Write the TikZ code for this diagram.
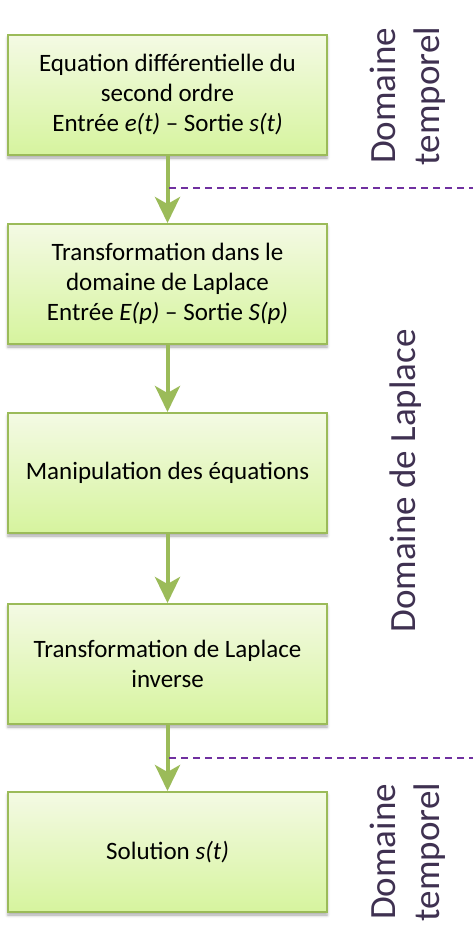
\documentclass[tikz,border=0pt]{standalone}
\usepackage{fontspec}
\setmainfont{Carlito}
\usetikzlibrary{arrows.meta,shadows.blur}
\definecolor{boxtop}{HTML}{F4FAE4}
\definecolor{boxbot}{HTML}{D6F49E}
\definecolor{boxline}{HTML}{9BBB59}
\definecolor{arrgreen}{HTML}{9BBB59}
\definecolor{dashpurple}{HTML}{7030A0}
\definecolor{labpurple}{HTML}{3F3151}
\tikzset{
  stepbox/.style={draw=boxline, line width=2pt, top color=boxtop, bottom color=boxbot,
    minimum width=319pt, minimum height=120pt, align=center, inner sep=0pt,
    font=\fontsize{25}{30}\selectfont,
    blur shadow={shadow xshift=0pt, shadow yshift=-3pt, shadow blur radius=3pt, shadow opacity=35}},
  flowarrow/.style={draw=arrgreen, line width=4pt, -{Stealth[length=26pt,width=25pt,inset=7pt]}},
  sep/.style={draw=dashpurple, line width=2.5pt, dash pattern=on 7pt off 5pt},
  domlabel/.style={rotate=90, align=center, text=labpurple, font=\fontsize{37}{44}\selectfont}
}
\begin{document}
\begin{tikzpicture}[x=1pt,y=-1pt]
\useasboundingbox (0,0) rectangle (473,947);
\node[stepbox] (b1) at (167.5,95) {Equation différentielle du\\second ordre\\Entrée \textit{e(t)} -- Sortie \textit{s(t)}};
\node[stepbox] (b2) at (167.5,284) {Transformation dans le\\domaine de Laplace\\Entrée \textit{E(p)} -- Sortie \textit{S(p)}};
\node[stepbox] (b3) at (167.5,473) {Manipulation des équations};
\node[stepbox] (b4) at (167.5,664) {Transformation de Laplace\\inverse};
\node[stepbox] (b5) at (167.5,852) {Solution \textit{s(t)}};
\draw[flowarrow] (b1.south) -- (b2.north);
\draw[flowarrow] (b2.south) -- (b3.north);
\draw[flowarrow] (b3.south) -- (b4.north);
\draw[flowarrow] (b4.south) -- (b5.north);
\coordinate (d1s) at (169,188);
\coordinate (d1e) at (473,188);
\coordinate (d2s) at (169,758);
\coordinate (d2e) at (473,758);
\draw[sep] (d1s) -- (d1e);
\draw[sep] (d2s) -- (d2e);
\node[domlabel] (t1) at (408,96) {Domaine\\temporel};
\node[domlabel] (t2) at (406,481) {Domaine de Laplace};
\node[domlabel] (t3) at (408,852) {Domaine\\temporel};
\end{tikzpicture}
\end{document}
